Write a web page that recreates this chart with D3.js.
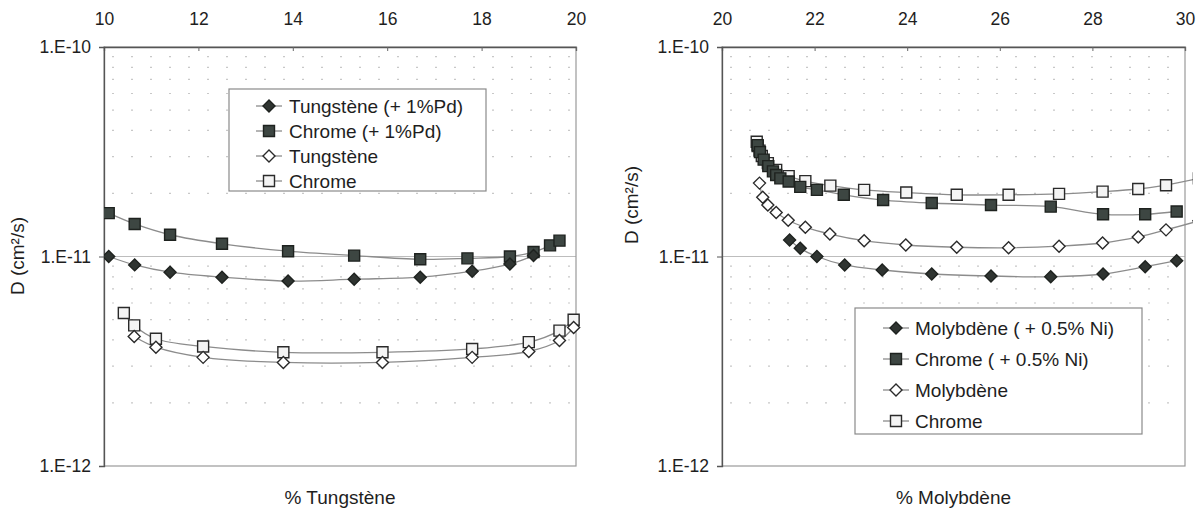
<!DOCTYPE html>
<html><head><meta charset="utf-8">
<script src="https://cdn.jsdelivr.net/npm/d3@7/dist/d3.min.js"></script>
<style>
body{margin:0;background:#fff}
text{font-family:"Liberation Sans",Arial,sans-serif;fill:#1e1e1e}
</style>
</head><body>
<svg id="c" width="1196" height="513"></svg>
<script>
// ---------- DATA (D in units of 1e-11 cm²/s) ----------
// Left panel: % Tungstène
const leftWPdX = [10.1, 10.65, 11.4, 12.5, 13.9, 15.3, 16.7, 17.8, 18.6, 19.1];
const leftWPdY = [1.0, 0.912, 0.842, 0.797, 0.763, 0.779, 0.797, 0.851, 0.92, 1.01];
const leftCrPdX = [10.1, 10.65, 11.4, 12.5, 13.9, 15.3, 16.7, 17.7, 18.6, 19.1, 19.45, 19.65];
const leftCrPdY = [1.61, 1.43, 1.27, 1.15, 1.06, 1.01, 0.97, 0.98, 1.0, 1.05, 1.13, 1.19];
const leftWX = [10.64, 11.1, 12.1, 13.8, 15.9, 17.8, 19.0, 19.65, 19.95];
const leftWY = [0.415, 0.369, 0.330, 0.312, 0.312, 0.330, 0.352, 0.397, 0.458];
const leftCrX = [10.42, 10.64, 11.1, 12.1, 13.8, 15.9, 17.8, 19.0, 19.65, 19.95];
const leftCrY = [0.537, 0.469, 0.405, 0.372, 0.349, 0.349, 0.362, 0.390, 0.443, 0.499];
const leftNames = ["Tungstène (+ 1%Pd)", "Chrome (+ 1%Pd)", "Tungstène", "Chrome"];
const leftXTicks = [10, 12, 14, 16, 18, 20];
const leftXTitle = "% Tungstène";

// Right panel: % Molybdène
const rightMoNiX = [21.46, 21.69, 22.05, 22.65, 23.46, 24.53, 25.81, 27.10, 28.23, 29.14, 29.82];
const rightMoNiY = [1.20, 1.094, 1.0, 0.911, 0.862, 0.825, 0.807, 0.80, 0.825, 0.894, 0.955];
const rightCrNiX = [20.77, 20.82, 20.9, 21.0, 21.1, 21.17, 21.26, 21.44, 21.69, 22.05, 22.63, 23.48, 24.53, 25.81, 27.10, 28.23, 29.14, 29.82];
const rightCrNiY = [3.4, 3.15, 2.9, 2.7, 2.55, 2.45, 2.36, 2.28, 2.15, 2.08, 1.97, 1.86, 1.80, 1.76, 1.73, 1.59, 1.59, 1.64];
const rightMoX = [20.81, 20.88, 20.99, 21.17, 21.43, 21.80, 22.33, 23.07, 23.97, 25.07, 26.19, 27.28, 28.22, 28.99, 29.59, 30.3];
const rightMoY = [2.24, 1.92, 1.76, 1.62, 1.49, 1.38, 1.28, 1.19, 1.135, 1.107, 1.10, 1.12, 1.16, 1.24, 1.34, 1.48];
const rightCrX = [20.75, 20.77, 20.81, 20.86, 20.99, 21.17, 21.44, 21.80, 22.34, 23.07, 23.98, 25.07, 26.19, 27.28, 28.22, 28.99, 29.59, 30.3];
const rightCrY = [3.53, 3.37, 3.20, 3.02, 2.79, 2.59, 2.42, 2.29, 2.18, 2.08, 2.02, 1.97, 1.97, 1.99, 2.04, 2.10, 2.19, 2.36];
const rightNames = ["Molybdène ( + 0.5% Ni)", "Chrome ( + 0.5% Ni)", "Molybdène", "Chrome"];
const rightXTicks = [20, 22, 24, 26, 28, 30];
const rightXTitle = "% Molybdène";

const yTickValues = [1e-10, 1e-11, 1e-12];
const yTickLabels = ["1.E-10", "1.E-11", "1.E-12"];
const yTitle = "D (cm²/s)";
const unit = 1e-11;

// ---------- DRAWING ----------
const svg = d3.select("#c");
const markerStyles = [
  {shape: "diamond", fill: "#2f3431", stroke: "#1e221f"},
  {shape: "square", fill: "#3d4642", stroke: "#1e221f"},
  {shape: "diamond", fill: "#ffffff", stroke: "#2a2a2a"},
  {shape: "square", fill: "#f4f4f4", stroke: "#2a2a2a"}
];
function markerPath(shape) {
  if (shape === "diamond") return "M0,-6L6,0L0,6L-6,0Z";
  return "M-5.5,-5.5H5.5V5.5H-5.5Z";
}

function drawPanel(cfg, idx) {
  const x = d3.scaleLinear().domain(d3.extent(cfg.xTicks)).range([cfg.left, cfg.right]);
  const y = d3.scaleLog().domain([1e-12, 1e-10]).range([cfg.bottom, cfg.top]);
  const g = svg.append("g");

  // minor dotted gridlines
  const minors = [];
  [1e-12, 1e-11].forEach(d => { for (let k = 2; k <= 9; k++) minors.push(d * k); });
  g.append("g").selectAll("line").data(minors).join("line")
    .attr("x1", cfg.left + 8).attr("x2", cfg.right)
    .attr("y1", d => y(d)).attr("y2", d => y(d))
    .attr("stroke", "#c8c8c8").attr("stroke-width", 1.2)
    .attr("stroke-dasharray", "2,17");
  // major gridline
  g.append("line").attr("x1", cfg.left).attr("x2", cfg.right)
    .attr("y1", y(1e-11)).attr("y2", y(1e-11))
    .attr("stroke", "#bdbdbd").attr("stroke-width", 1.2);

  // frame
  g.append("rect").attr("x", cfg.left).attr("y", cfg.top)
    .attr("width", cfg.right - cfg.left).attr("height", cfg.bottom - cfg.top)
    .attr("fill", "none").attr("stroke", "#9a9a9a").attr("stroke-width", 1.2);

  // top axis
  const xAxis = d3.axisTop(x).tickValues(cfg.xTicks).tickSize(-4).tickPadding(22)
    .tickFormat(d3.format("d"));
  const xa = g.append("g").attr("transform", `translate(0,${cfg.top})`).call(xAxis);
  xa.select(".domain").attr("stroke", "#555").attr("stroke-width", 1.3);
  xa.selectAll(".tick line").attr("stroke", "#666");
  xa.selectAll("text").attr("font-size", 17.5).attr("fill", "#1e1e1e")
    .attr("font-family", '"Liberation Sans",Arial,sans-serif');

  // left axis
  const yAxis = d3.axisLeft(y).tickValues(yTickValues).tickSize(5).tickPadding(8)
    .tickFormat((d, i) => yTickLabels[yTickValues.indexOf(d)]);
  const ya = g.append("g").attr("transform", `translate(${cfg.left},0)`).call(yAxis);
  ya.select(".domain").attr("stroke", "#555").attr("stroke-width", 1.3);
  ya.selectAll(".tick line").attr("stroke", "#555");
  ya.selectAll("text").attr("font-size", 17.5).attr("fill", "#1e1e1e")
    .attr("font-family", '"Liberation Sans",Arial,sans-serif');

  // titles
  g.append("text").attr("x", (cfg.left + cfg.right) / 2).attr("y", cfg.bottom + 38)
    .attr("text-anchor", "middle").attr("font-size", 19).text(cfg.xTitle);
  g.append("text").attr("transform", `translate(${cfg.yTitleX},${cfg.yTitleY}) rotate(-90)`)
    .attr("text-anchor", "middle").attr("font-size", 19).text(yTitle);

  // clip
  const cid = "clip" + idx;
  svg.append("clipPath").attr("id", cid).append("rect")
    .attr("x", cfg.left).attr("y", cfg.top - 8)
    .attr("width", cfg.right - cfg.left + 8).attr("height", cfg.bottom - cfg.top + 16);
  const plot = g.append("g").attr("clip-path", `url(#${cid})`);
  const line = d3.line().x(d => x(d[0])).y(d => y(d[1] * unit)).curve(d3.curveCatmullRom.alpha(0.5));

  const order = [3, 2, 1, 0];
  order.forEach(si => {
    const s = cfg.series[si];
    const pts = s.x.map((v, i) => [v, s.y[i]]);
    plot.append("path").datum(pts).attr("d", line)
      .attr("fill", "none").attr("stroke", "#8c8c8c").attr("stroke-width", 1.3);
  });
  order.forEach(si => {
    const s = cfg.series[si];
    const st = markerStyles[si];
    const pts = s.x.map((v, i) => [v, s.y[i]]);
    plot.append("g").selectAll("path").data(pts).join("path")
      .attr("transform", d => `translate(${x(d[0])},${y(d[1] * unit)})`)
      .attr("d", markerPath(st.shape))
      .attr("fill", st.fill).attr("stroke", st.stroke).attr("stroke-width", 1.4);
  });

  // legend
  const L = cfg.legend;
  const lg = g.append("g");
  lg.append("rect").attr("x", L.x).attr("y", L.y).attr("width", L.w).attr("height", L.h)
    .attr("fill", "#fff").attr("stroke", "#8a8a8a").attr("stroke-width", 1.2);
  cfg.names.forEach((n, i) => {
    const cy = L.y + L.first + i * L.step;
    const st = markerStyles[i];
    lg.append("line").attr("x1", L.x + L.lineX0).attr("x2", L.x + L.lineX0 + 26)
      .attr("y1", cy).attr("y2", cy).attr("stroke", "#8c8c8c").attr("stroke-width", 1.3);
    lg.append("path").attr("transform", `translate(${L.x + L.lineX0 + 13},${cy})`)
      .attr("d", markerPath(st.shape)).attr("fill", st.fill).attr("stroke", st.stroke).attr("stroke-width", 1.4);
    lg.append("text").attr("x", L.x + L.textX).attr("y", cy).attr("dy", "0.35em")
      .attr("font-size", 19).text(n);
  });
}

drawPanel({
  left: 104, right: 576, top: 47, bottom: 466,
  xTicks: leftXTicks, xTitle: leftXTitle, yTitleX: 24, yTitleY: 256,
  names: leftNames,
  series: [
    {x: leftWPdX, y: leftWPdY}, {x: leftCrPdX, y: leftCrPdY},
    {x: leftWX, y: leftWY}, {x: leftCrX, y: leftCrY}
  ],
  legend: {x: 229, y: 89, w: 257, h: 102, first: 17, step: 25, lineX0: 27, textX: 60}
}, 0);

drawPanel({
  left: 722, right: 1185, top: 47, bottom: 466,
  xTicks: rightXTicks, xTitle: rightXTitle, yTitleX: 638, yTitleY: 205,
  names: rightNames,
  series: [
    {x: rightMoNiX, y: rightMoNiY}, {x: rightCrNiX, y: rightCrNiY},
    {x: rightMoX, y: rightMoY}, {x: rightCrX, y: rightCrY}
  ],
  legend: {x: 855, y: 308, w: 287, h: 126, first: 20, step: 31, lineX0: 28, textX: 60}
}, 1);
</script>
</body></html>
